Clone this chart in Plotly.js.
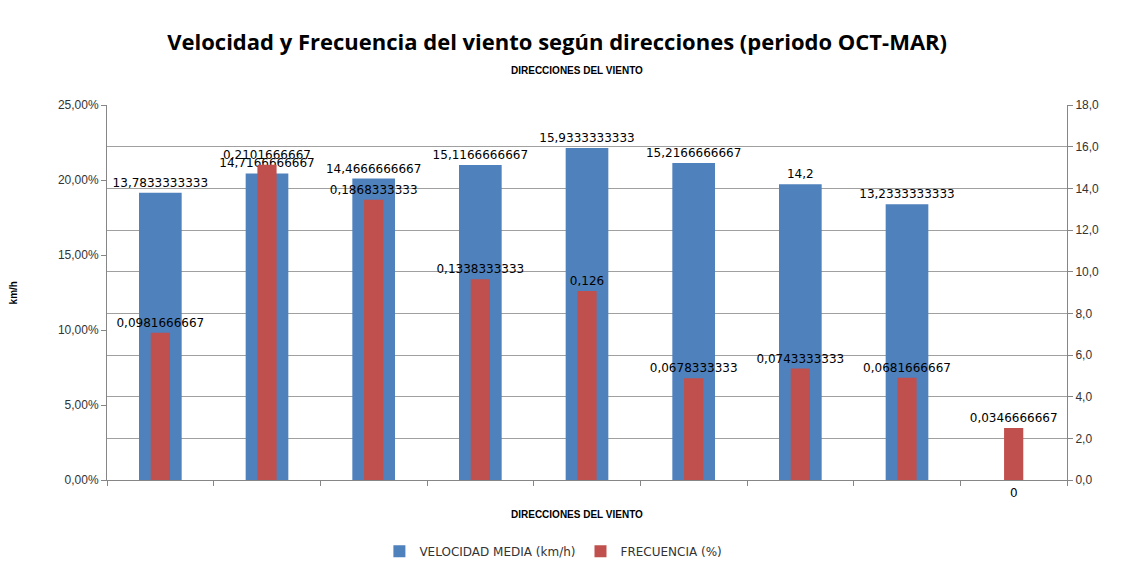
<!DOCTYPE html>
<html>
<head>
<meta charset="utf-8">
<script src="https://cdn.plot.ly/plotly-3.0.1.min.js"></script>
<style>html,body{margin:0;padding:0;background:#fff;}#chart{width:1121px;height:567px;}</style>
</head>
<body>
<div id="chart"></div>
<script>
var categories = ['N','NE','E','SE','S','SO','O','NO','CALMA'];
var velocidad = [13.7833333333, 14.7166666667, 14.4666666667, 15.1166666667, 15.9333333333, 15.2166666667, 14.2, 13.2333333333, 0];
var frecuencia = [0.0981666667, 0.2101666667, 0.1868333333, 0.1338333333, 0.126, 0.0678333333, 0.0743333333, 0.0681666667, 0.0346666667];
var seriesNames = ['VELOCIDAD MEDIA (km/h)', 'FRECUENCIA (%)'];

function fmt(v){ return String(v).replace('.', ','); }

var labelFont = {family: 'DejaVu Sans, sans-serif', size: 12, color: '#000'};
var smallBold = {family: 'Liberation Sans, Arial, sans-serif', size: 10, color: '#000'};

var velText = velocidad.map(function(v){ return v === 0 ? '' : fmt(v); });

var traceVel = {
  type: 'bar', name: seriesNames[0], x: categories, y: velocidad,
  yaxis: 'y', width: 0.4,
  marker: {color: '#4F81BD'},
  text: velText, textposition: 'outside', textfont: labelFont,
  constraintext: 'none', cliponaxis: false, hoverinfo: 'x+y'
};
var traceFrec = {
  type: 'bar', name: seriesNames[1], x: categories, y: frecuencia,
  yaxis: 'y2', width: 0.18,
  marker: {color: '#C0504D'},
  text: frecuencia.map(fmt), textposition: 'outside', textfont: labelFont,
  constraintext: 'none', cliponaxis: false, hoverinfo: 'x+y'
};

var annotations = [
  {text: '<b>DIRECCIONES DEL VIENTO</b>', xref: 'paper', yref: 'paper', x: 0.49, y: 1.093, xanchor: 'center', yanchor: 'middle', showarrow: false, font: smallBold},
  {text: '<b>DIRECCIONES DEL VIENTO</b>', xref: 'paper', yref: 'paper', x: 0.49, y: -0.093, xanchor: 'center', yanchor: 'middle', showarrow: false, font: smallBold},
  {text: '<b>km/h</b>', xref: 'paper', yref: 'paper', x: -0.097, y: 0.5, xanchor: 'center', yanchor: 'middle', textangle: -90, showarrow: false, font: smallBold}
];
velocidad.forEach(function(v, i){
  if (v === 0) {
    annotations.push({text: fmt(v), x: categories[i], y: 0, xref: 'x', yref: 'y', yanchor: 'top', showarrow: false, yshift: -4,
      font: labelFont});
  }
});

var layout = {
  width: 1121, height: 567,
  margin: {l: 107, r: 54, t: 105, b: 87, autoexpand: false},
  paper_bgcolor: '#fff', plot_bgcolor: '#fff',
  separators: ',.',
  barmode: 'overlay',
  showlegend: true,
  title: {text: '<b>Velocidad y Frecuencia del viento según direcciones (periodo OCT-MAR)</b>',
    x: 0.497, xanchor: 'center', y: 0.925, yanchor: 'middle',
    font: {family: 'Open Sans, sans-serif', size: 22, color: '#000'}},
  xaxis: {
    type: 'category', showticklabels: false, tickson: 'boundaries', automargin: false,
    ticks: 'outside', ticklen: 5, tickcolor: '#868686',
    showline: true, linecolor: '#868686', linewidth: 1,
    showgrid: false, zeroline: false
  },
  yaxis: {
    side: 'right', range: [0, 18], dtick: 2, tickformat: '.1f', automargin: false,
    showgrid: true, gridcolor: '#A0A0A0', gridwidth: 1,
    showline: true, linecolor: '#868686', linewidth: 1,
    ticks: 'outside', ticklen: 5, tickcolor: '#868686',
    zeroline: false,
    tickfont: {family: 'Liberation Sans, Arial, sans-serif', size: 12, color: '#333'}
  },
  yaxis2: {
    overlaying: 'y', side: 'left', range: [0, 0.25], dtick: 0.05, tickformat: '.2%', automargin: false,
    showgrid: false, zeroline: false,
    showline: true, linecolor: '#868686', linewidth: 1,
    ticks: 'outside', ticklen: 5, tickcolor: '#868686',
    tickfont: {family: 'Liberation Sans, Arial, sans-serif', size: 12, color: '#333'}
  },
  legend: {orientation: 'h', x: 0.465, xanchor: 'center', y: -0.19, yanchor: 'middle',
    font: {family: 'DejaVu Sans, sans-serif', size: 12, color: '#333'},
    itemwidth: 30, traceorder: 'normal'},
  annotations: annotations
};

Plotly.newPlot('chart', [traceVel, traceFrec], layout, {displayModeBar: false, responsive: false});
</script>
</body>
</html>
